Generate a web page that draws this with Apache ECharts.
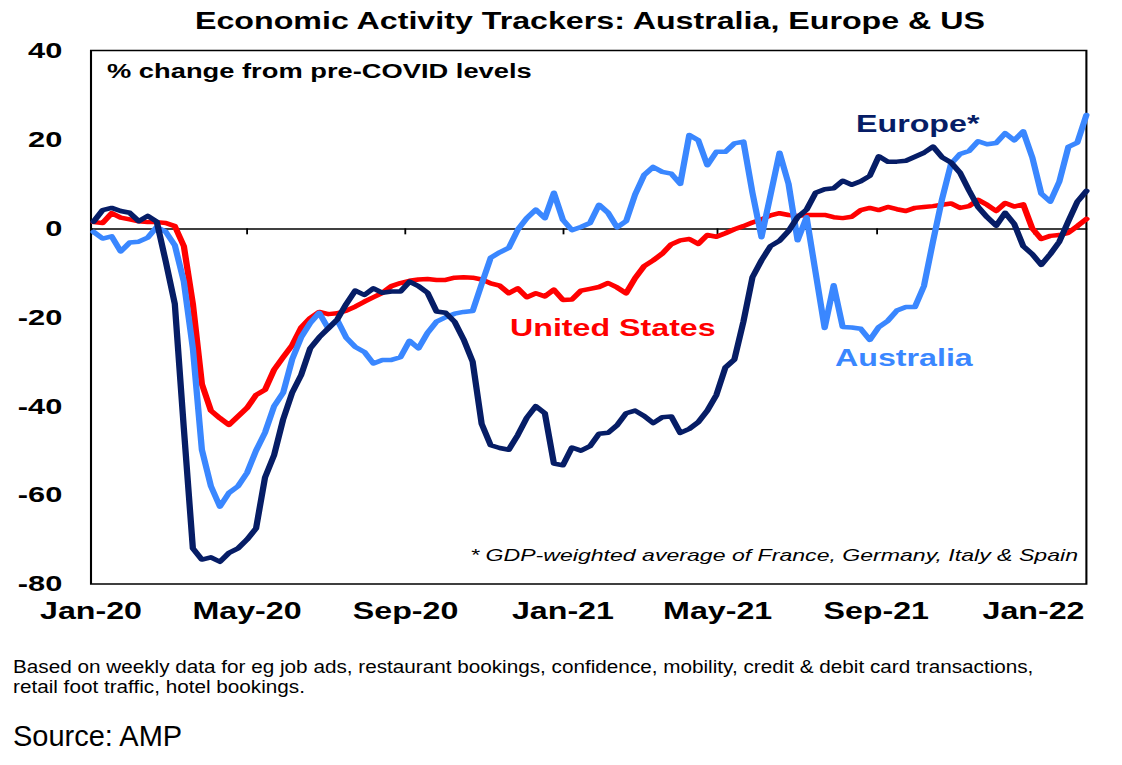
<!DOCTYPE html>
<html>
<head>
<meta charset="utf-8">
<script src="https://cdn.jsdelivr.net/npm/echarts@6/dist/echarts.min.js"></script>
<style>
  html, body { margin: 0; padding: 0; background: #fff; overflow: hidden; }
  #wrap { width: 1122px; height: 765px; overflow: hidden; position: relative; }
  #chart { width: 801.43px; height: 765px; transform: scaleX(1.4); transform-origin: 0 0; }
</style>
</head>
<body>
<div id="wrap"><div id="chart"></div></div>
<script>
// ---- Data (weekly, % change from pre-COVID levels) ----
const firstWeek = '2020-01-03';
const europe = [1.5,4.1,4.6,3.9,3.5,1.6,2.8,1.5,-7.5,-17,
  -45,-72,-74.5,-74,-75,-73,-72,-70,-67.5,-56,
  -51,-43,-37,-33,-27,-24.5,-22.5,-20.5,-17,-14,
  -15,-13.5,-14.5,-14.2,-14.2,-12,-13,-14.5,-18.7,-19,
  -21,-25,-30,-44,-48.8,-49.4,-49.8,-46.5,-42.6,-40,
  -41.6,-52.9,-53.3,-49.3,-50,-49,-46.2,-46,-44.3,-41.6,
  -41,-42.2,-43.8,-42.5,-42.3,-46,-45.1,-43.6,-41,-37.5,
  -31.3,-29.5,-21,-11,-7.2,-4,-2.8,-0.6,2.5,4.2,
  8,8.8,9,10.7,9.8,10.6,11.8,16.2,15,15,
  15.2,16.1,17,18.4,16,14.8,12.5,8.5,4.8,2.5,
  0.6,3.5,1,-4,-5.8,-8.2,-5.8,-3,1.6,6,
  8.4];
const australia = [-0.8,-2.3,-1.8,-5.2,-3.2,-3,-2.1,0.3,-0.8,-3.8,
  -12,-27,-49.8,-58,-62.6,-59.5,-58,-55,-50,-45.9,
  -40,-37,-29.5,-24.5,-21.3,-19,-22.5,-20.6,-24.6,-26.7,
  -27.8,-30.4,-29.6,-29.6,-29,-25.3,-27,-23.5,-21,-20,
  -19.2,-18.8,-18.6,-12.5,-6.6,-5.4,-4.4,-0.3,2.3,4.2,
  2.3,8,1.9,-0.4,0.3,1.2,5.3,3.5,0.2,1.6,
  7.6,12,13.8,12.7,12.3,10,21,19.8,14.2,17.2,
  17.2,19.1,19.5,8,-2,7.5,17,10,-2.7,2.5,
  -10,-22.4,-12.8,-22.2,-22.3,-22.6,-25.1,-22.2,-20.8,-18.5,
  -17.7,-17.7,-13,-3,6.5,14.5,16.7,17.4,19.6,18.9,
  19.2,21.4,19.8,21.8,16,7.8,6,10.5,18.3,19.3,
  25.5];
const unitedStates = [1.4,1.2,3.4,2.4,2,1.6,1.4,1.4,1.2,0.5,
  -4,-17,-35,-41,-42.7,-44.2,-42.3,-40.4,-37.5,-36.3,
  -31.8,-29,-26.3,-22.3,-20.2,-18.8,-19.3,-19.1,-18.5,-17.6,
  -16.5,-15.5,-14.5,-13,-12.3,-11.8,-11.5,-11.4,-11.6,-11.6,
  -11.1,-11,-11.1,-11.5,-12.4,-12.9,-14.6,-13.5,-15.5,-14.6,
  -15.3,-13.8,-16.1,-16,-14,-13.6,-13.2,-12.3,-13.3,-14.6,
  -11.2,-8.5,-7.2,-5.7,-3.6,-2.7,-2.4,-3.5,-1.5,-1.9,
  -1.1,-0.2,0.5,1.3,2,2.9,3.4,3,2.8,3,
  3,3,2.5,2.3,2.6,4.1,4.6,4.1,4.8,4.3,
  3.9,4.6,4.8,5,5.3,5.6,4.6,5,6.4,5.3,
  3.9,5.7,4.9,5.4,0,-2.4,-1.7,-1.5,-1,0.5,
  2.1];
const tickDates = ['2020-01-01','2020-05-01','2020-09-01','2021-01-01','2021-05-01','2021-09-01','2022-01-01'];
const tickLabels = ['Jan-20','May-20','Sep-20','Jan-21','May-21','Sep-21','Jan-22'];
const yTicks = [40, 20, 0, -20, -40, -60, -80];

// ---- Build ----
const DAY = 86400000;
const t0 = Date.parse(firstWeek + 'T00:00:00Z');
const weekTime = i => t0 + i * 7 * DAY;
const toPairs = arr => arr.map((v, i) => [weekTime(i), v]);
const tickVals = tickDates.map(d => Date.parse(d + 'T00:00:00Z'));
const xMin = tickVals[0];
const xMax = weekTime(europe.length - 1);

const S = 1.4; // horizontal stretch of the chart picture
const FONT = "'Liberation Sans', Arial, sans-serif";
const NAVY = '#061D66', LBLUE = '#3A87FF', RED = '#FF0000';

const chart = echarts.init(document.getElementById('chart'), null, { renderer: 'svg' });

const option = {
  animation: false,
  backgroundColor: '#fff',
  grid: {
    left: 91 / S, right: 801.43 - 1087 / S, top: 50.5, bottom: 765 - 584,
    show: true, borderColor: '#000', borderWidth: 1.5, backgroundColor: 'transparent'
  },
  xAxis: [
    {
      type: 'value', min: xMin, max: xMax, position: 'bottom',
      axisLine: { show: false, onZero: false },
      axisTick: { show: false },
      splitLine: { show: false },
      axisLabel: {
        customValues: tickVals,
        margin: 16,
        fontFamily: FONT, fontWeight: 'bold', fontSize: 23, color: '#000',
        formatter: v => { const k = tickVals.indexOf(v); return k >= 0 ? tickLabels[k] : ''; }
      }
    },
    {
      type: 'value', min: xMin, max: xMax, position: 'top',
      axisLine: { show: true, onZero: true, lineStyle: { color: '#000', width: 1.5 } },
      axisTick: { show: true, inside: true, length: 6, customValues: tickVals, lineStyle: { color: '#000', width: 1.3 } },
      axisLabel: { show: false },
      splitLine: { show: false }
    }
  ],
  yAxis: {
    type: 'value', min: -80, max: 40, interval: 20,
    axisLine: { show: false }, axisTick: { show: false }, splitLine: { show: false },
    axisLabel: {
      customValues: yTicks,
      margin: 20.5, fontFamily: FONT, fontWeight: 'bold', fontSize: 22, color: '#000'
    }
  },
  series: [
    { name: 'United States', type: 'line', data: toPairs(unitedStates), showSymbol: false, symbol: 'none',
      lineStyle: { color: RED, width: 4.5, join: 'round', cap: 'round' }, z: 2 },
    { name: 'Australia', type: 'line', data: toPairs(australia), showSymbol: false, symbol: 'none',
      lineStyle: { color: LBLUE, width: 4.5, join: 'round', cap: 'round' }, z: 3 },
    { name: 'Europe*', type: 'line', data: toPairs(europe), showSymbol: false, symbol: 'none',
      lineStyle: { color: NAVY, width: 4.5, join: 'round', cap: 'round' }, z: 4 }
  ],
  graphic: [
    { type: 'text', x: 590 / S, y: 21, style: { text: 'Economic Activity Trackers: Australia, Europe & US',
      font: 'bold 23px ' + FONT, fill: '#000', textAlign: 'center', textVerticalAlign: 'middle' } },
    { type: 'text', x: 107 / S, y: 71, style: { text: '% change from pre-COVID levels',
      font: 'bold 19.5px ' + FONT, fill: '#000', textAlign: 'left', textVerticalAlign: 'middle' } },
    { type: 'text', x: 856 / S, y: 124, style: { text: 'Europe*',
      font: 'bold 23px ' + FONT, fill: NAVY, textAlign: 'left', textVerticalAlign: 'middle' } },
    { type: 'text', x: 510 / S, y: 328, style: { text: 'United States',
      font: 'bold 23px ' + FONT, fill: RED, textAlign: 'left', textVerticalAlign: 'middle' } },
    { type: 'text', x: 835 / S, y: 358, style: { text: 'Australia',
      font: 'bold 23px ' + FONT, fill: LBLUE, textAlign: 'left', textVerticalAlign: 'middle' } },
    { type: 'text', x: 1078 / S, y: 555, style: { text: '* GDP-weighted average of France, Germany, Italy & Spain',
      font: 'italic 16.5px ' + FONT, fill: '#000', textAlign: 'right', textVerticalAlign: 'middle' } },
    { type: 'text', x: 13 / S, y: 666.5, scaleX: 1.12 / S, style: { text: 'Based on weekly data for eg job ads, restaurant bookings, confidence, mobility, credit & debit card transactions,',
      font: '18.5px ' + FONT, fill: '#000', textAlign: 'left', textVerticalAlign: 'middle' } },
    { type: 'text', x: 13 / S, y: 686.5, scaleX: 1.12 / S, style: { text: 'retail foot traffic, hotel bookings.',
      font: '18.5px ' + FONT, fill: '#000', textAlign: 'left', textVerticalAlign: 'middle' } },
    { type: 'text', x: 13 / S, y: 736, scaleX: 1 / S, style: { text: 'Source: AMP',
      font: '29px ' + FONT, fill: '#000', textAlign: 'left', textVerticalAlign: 'middle' } }
  ]
};
chart.setOption(option);
</script>
</body>
</html>
